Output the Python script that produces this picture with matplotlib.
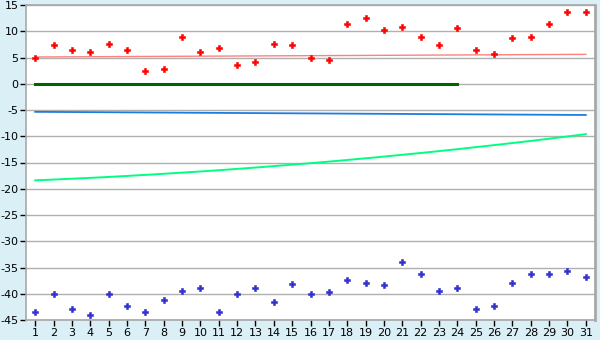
import numpy as np
import matplotlib
matplotlib.use("Agg")
import matplotlib.pyplot as plt

# categories 1..31
days = list(range(1, 32))

red_pts = [5.0, 7.3, 6.5, 6.0, 7.5, 6.5, 2.5, 2.9, 9.0, 6.0,
           6.9, 3.5, 4.1, 7.5, 7.3, 5.0, 4.5, 11.3, 12.5, 10.2,
           10.75, 9.0, 7.3, 10.6, 6.5, 5.6, 8.8, 9.0, 11.3, 13.6, 13.6]

blue_pts = [-43.4, -40.0, -42.9, -44.0, -40.0, -42.3, -43.4, -41.1, -39.4, -38.9,
            -43.4, -40.0, -38.9, -41.5, -38.1, -40.0, -39.6, -37.3, -37.9, -38.3,
            -33.9, -36.2, -39.4, -38.9, -42.9, -42.3, -37.9, -36.2, -36.2, -35.6, -36.8]

green_curve = [-18.40, -18.25, -18.09, -17.93, -17.75, -17.56, -17.36, -17.15, -16.93, -16.71,
               -16.47, -16.22, -15.96, -15.69, -15.41, -15.13, -14.83, -14.52, -14.20, -13.87,
               -13.53, -13.19, -12.83, -12.46, -12.08, -11.69, -11.29, -10.89, -10.47, -10.04, -9.60]

# straight trend lines (start / end)
red_trend_x = [1, 31]
red_trend = [5.1, 5.6]
blue_trend_x = [1, 31]
blue_trend = [-5.35, -5.95]
zero_x = [1, 24]
zero_line = [0, 0]

y_ticks = list(range(-45, 16, 5))

plt.rcParams['axes.unicode_minus'] = False
plt.rcParams['font.family'] = 'DejaVu Sans'

fig = plt.figure(figsize=(6, 3.4), dpi=100, facecolor='#daeff6')
ax = fig.add_axes([26/600, 20/340, 569/600, 315/340])
ax.set_facecolor('white')

ax.set_xlim(0.5, 31.5)
ax.set_ylim(-45, 15)
ax.set_yticks(y_ticks)
ax.set_xticks(days)
ax.grid(axis='y', color='#b0b0b0', linewidth=1.0)
ax.set_axisbelow(True)

for s in ax.spines.values():
    s.set_color('#a8a8a8')
    s.set_linewidth(1.2)
ax.spines['right'].set_linewidth(2)

ax.tick_params(axis='both', colors='#000000', labelsize=8, length=4,
               width=1, direction='out', pad=1.5)

ax.plot(days, green_curve, color='#00ff80', linewidth=1.4, zorder=3)
ax.plot(blue_trend_x, blue_trend, color='#1e7be0', linewidth=1.3, zorder=3)
ax.plot(red_trend_x, red_trend, color='#ff8080', linewidth=1.0, zorder=3)
ax.plot(zero_x, zero_line, color='#006400', linewidth=2.2, zorder=3)

ax.plot(days, red_pts, linestyle='none', marker='P', markersize=5,
        color='#ff0000', markeredgecolor='#ff0000', markeredgewidth=0.4, zorder=4)
ax.plot(days, blue_pts, linestyle='none', marker='P', markersize=4.5,
        color='#3030d0', markeredgecolor='#3030d0', markeredgewidth=0.4, zorder=4)

fig.savefig('out.png', dpi=100, facecolor=fig.get_facecolor())
